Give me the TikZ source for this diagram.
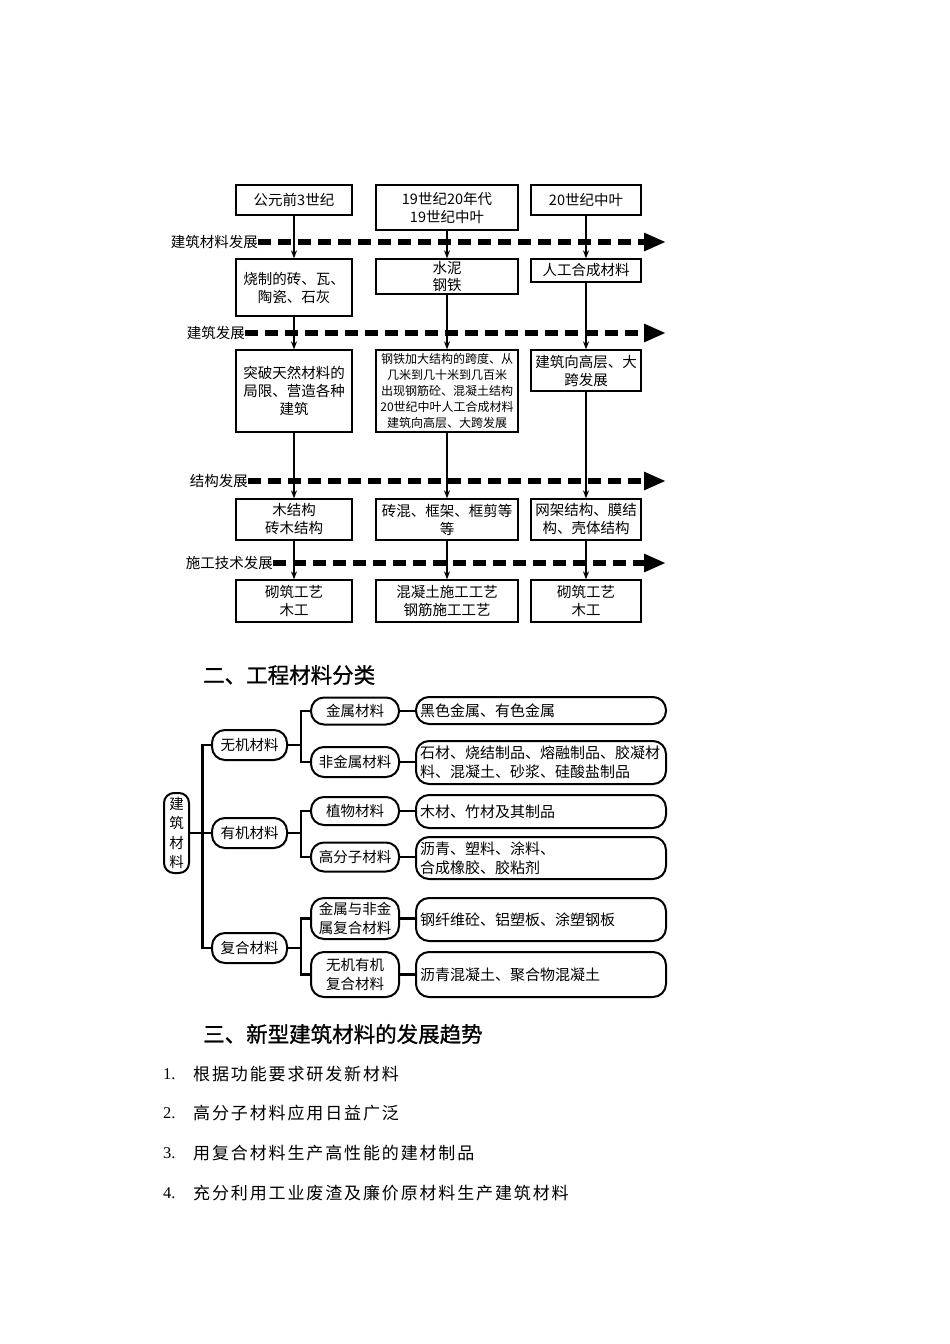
\documentclass[tikz,border=0pt]{standalone}
\usepackage{fontspec}
\setmainfont{Noto Sans CJK SC}
\newfontfamily\numfont{Liberation Serif}
\newfontfamily\listfont[LetterSpace=11]{Noto Sans CJK SC}
\newfontfamily\headfont[FakeBold=1]{Noto Sans CJK SC}
\usetikzlibrary{arrows.meta}
\newcommand{\fs}[2]{\fontsize{#1}{#2}\selectfont}

\begin{document}
\begin{tikzpicture}[x=1pt,y=-1pt,
  flowBox/.style={draw,line width=1.3pt,align=center,inner sep=2pt,font=\fs{14.5}{18}},
  trendLine/.style={line width=6pt,dash pattern=on 13pt off 7pt,-{Triangle[length=22pt,width=17pt]}},
  trendLabel/.style={anchor=east,inner sep=0pt,font=\fs{14.5}{18}},
  stepArrow/.style={line width=1.4pt,-{Stealth[length=8pt,width=6pt]}},
  treeBox/.style={draw,line width=2pt,rounded corners=13pt,align=center,inner sep=2pt,font=\fs{14.5}{19}},
  leafBox/.style={treeBox,text width=242pt,align=left,inner xsep=4pt,font=\fs{15}{19}},
  treeLine/.style={line width=2.4pt},
  headLine/.style={anchor=west,inner sep=0pt,font=\headfont\fs{21.5}{24}},
  listNum/.style={anchor=west,inner sep=0pt,font=\numfont\fs{16.5}{18}},
  listItem/.style={anchor=west,inner sep=0pt,font=\listfont\fs{17}{18}}]
\fill[white] (0,0) rectangle (950,1344);
\useasboundingbox (0,0) rectangle (950,1344);

% eras
\node[flowBox,minimum width=116pt,minimum height=30pt] (era1) at (294,200) {公元前3世纪};
\node[flowBox,minimum width=142pt,minimum height=45pt] (era2) at (447,207.5) {19世纪20年代\\19世纪中叶};
\node[flowBox,minimum width=110pt,minimum height=30pt] (era3) at (586,200) {20世纪中叶};

% materials
\node[flowBox,minimum width=116pt,minimum height=57pt] (mat1) at (294,287.5) {烧制的砖、瓦、\\陶瓷、石灰};
\node[flowBox,minimum width=142pt,minimum height=35pt,inner ysep=0pt,font=\fs{14.5}{17}] (mat2) at (447,276.5) {水泥\\钢铁};
\node[flowBox,minimum width=110pt,minimum height=23pt] (mat3) at (586,270.5) {人工合成材料};

% buildings
\node[flowBox,minimum width=116pt,minimum height=82pt] (bld1) at (294,391) {突破天然材料的\\局限、营造各种\\建筑};
\node[flowBox,minimum width=142pt,minimum height=82pt,inner ysep=1pt,font=\fs{12}{16}] (bld2) at (447,391)
  {钢铁加大结构的跨度、从\\几米到几十米到几百米\\出现钢筋砼、混凝土结构\\20世纪中叶人工合成材料\\建筑向高层、大跨发展};
\node[flowBox,minimum width=110pt,minimum height=41pt] (bld3) at (586,370.5) {建筑向高层、大\\跨发展};

% structures
\node[flowBox,minimum width=116pt,minimum height=41pt] (str1) at (294,519.5) {木结构\\砖木结构};
\node[flowBox,minimum width=142pt,minimum height=41pt] (str2) at (447,519.5) {砖混、框架、框剪等\\等};
\node[flowBox,minimum width=110pt,minimum height=41pt] (str3) at (586,519.5) {网架结构、膜结\\构、壳体结构};

% techniques
\node[flowBox,minimum width=116pt,minimum height=42pt] (tec1) at (294,601) {砌筑工艺\\木工};
\node[flowBox,minimum width=142pt,minimum height=42pt] (tec2) at (447,601) {混凝土施工工艺\\钢筋施工工艺};
\node[flowBox,minimum width=110pt,minimum height=42pt] (tec3) at (586,601) {砌筑工艺\\木工};

% trend lines
\foreach \trendName/\labelX/\trendY/\trendText in {trendMat/258/242/建筑材料发展, trendBld/245/333/建筑发展,
    trendStr/248/481/结构发展, trendTec/273/563/施工技术发展}{
  \node[trendLabel] (\trendName) at (\labelX,\trendY) {\trendText};
  \coordinate (\trendName-end) at (666,\trendY);
  \draw[trendLine] (\trendName.east) -- (\trendName-end);
}

\foreach \col in {1,2,3}{
  \draw[stepArrow] (era\col.south) -- (mat\col.north);
  \draw[stepArrow] (mat\col.south) -- (bld\col.north);
  \draw[stepArrow] (bld\col.south) -- (str\col.north);
  \draw[stepArrow] (str\col.south) -- (tec\col.north);
}

% classification
\node[headLine] (secTwo) at (203,675) {二、工程材料分类};

\node[treeBox,minimum width=25pt,minimum height=80pt,inner sep=1pt,rounded corners=10pt,font=\fs{14.5}{19.5}] (root) at (176.5,833) {建\\筑\\材\\料};

\node[treeBox,minimum width=75pt,minimum height=30pt] (inorg) at (249.5,745) {无机材料};
\node[treeBox,minimum width=75pt,minimum height=30pt] (org) at (249.5,833) {有机材料};
\node[treeBox,minimum width=75pt,minimum height=30pt] (comp) at (249.5,948) {复合材料};

\node[treeBox,minimum width=88pt,minimum height=27pt] (metal) at (355,711) {金属材料};
\node[treeBox,minimum width=88pt,minimum height=30pt] (nonmetal) at (355,762) {非金属材料};
\node[treeBox,minimum width=88pt,minimum height=28pt] (plant) at (355,811) {植物材料};
\node[treeBox,minimum width=88pt,minimum height=29pt] (polymer) at (355,857) {高分子材料};
\node[treeBox,minimum width=88pt,minimum height=41pt] (metcomp) at (355,918.5) {金属与非金\\属复合材料};
\node[treeBox,minimum width=88pt,minimum height=45pt] (iocomp) at (355,974.5) {无机有机\\复合材料};

\node[leafBox,minimum height=27pt] (metal-ex) at (541,710.5) {黑色金属、有色金属};
\node[leafBox,minimum height=43pt] (nonmetal-ex) at (541,762.5) {石材、烧结制品、熔融制品、胶凝材\\料、混凝土、砂浆、硅酸盐制品};
\node[leafBox,minimum height=33pt] (plant-ex) at (541,811.5) {木材、竹材及其制品};
\node[leafBox,minimum height=42pt] (polymer-ex) at (541,858) {沥青、塑料、涂料、\\合成橡胶、胶粘剂};
\node[leafBox,minimum height=43pt] (metcomp-ex) at (541,919.5) {钢纤维砼、铝塑板、涂塑钢板};
\node[leafBox,minimum height=45pt] (iocomp-ex) at (541,974.5) {沥青混凝土、聚合物混凝土};

\draw[treeLine] (root.east) -- ++(12.5,0) coordinate (trunk)
  (trunk) |- (inorg.west) (trunk) -- (org.west) (trunk) |- (comp.west);
\draw[treeLine] (inorg.east) -- ++(13,0) coordinate (inorgFork)
  (inorgFork) |- (metal.west) (inorgFork) |- (nonmetal.west);
\draw[treeLine] (org.east) -- ++(13,0) coordinate (orgFork)
  (orgFork) |- (plant.west) (orgFork) |- (polymer.west);
\draw[treeLine] (comp.east) -- ++(13,0) coordinate (compFork)
  (compFork) |- (metcomp.west) (compFork) |- (iocomp.west);
\foreach \kind in {metal,nonmetal,plant,polymer,metcomp,iocomp}
  \draw[treeLine] (\kind.east) -- (\kind.east -| \kind-ex.west);

% trends
\node[headLine] (secThree) at (203,1034) {三、新型建筑材料的发展趋势};
\foreach \n/\y/\txt in {1/1074/根据功能要求研发新材料, 2/1113/高分子材料应用日益广泛,
    3/1153/用复合材料生产高性能的建材制品, 4/1193/充分利用工业废渣及廉价原材料生产建筑材料}{
  \node[listNum] (num\n) at (163,\y) {\n.};
  \node[listItem] (item\n) at (193,\y) {\txt};
}
\end{tikzpicture}
\end{document}
